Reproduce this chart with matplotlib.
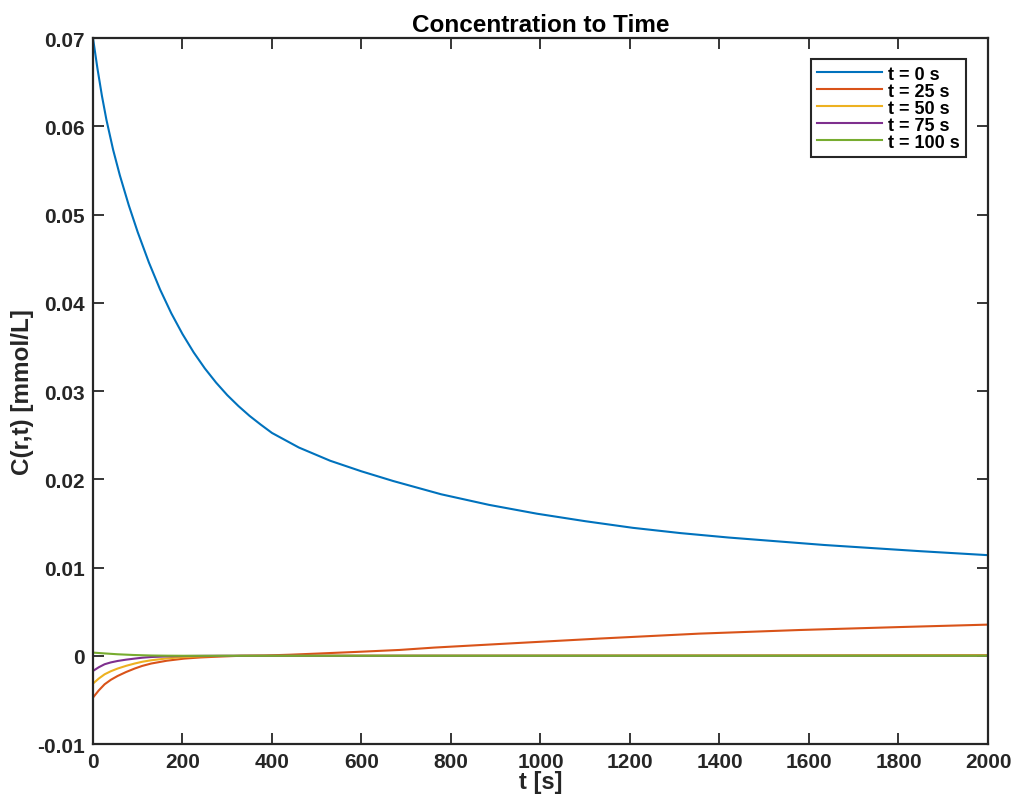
import numpy as np
import matplotlib
matplotlib.use("Agg")
import matplotlib.pyplot as plt

plt.rcParams['font.family'] = ['Liberation Sans', 'DejaVu Sans']
plt.rcParams['font.weight'] = 'bold'

# values
t_0 = [0, 10, 20, 30, 45, 60, 80, 100, 125, 150, 175, 200, 225, 250, 275,
       300, 325, 350, 375, 400, 460, 530, 600, 671, 778, 885, 992, 1100,
       1206, 1313, 1420, 1635, 1849, 2000]
c_0 = [0.07, 0.06655, 0.06345, 0.06075, 0.05734, 0.05445, 0.05105, 0.048,
       0.04456, 0.0415, 0.03881, 0.03646, 0.03438, 0.03256, 0.03096, 0.02954,
       0.0283, 0.02718, 0.02619, 0.02525, 0.0236, 0.0221, 0.0209, 0.0198,
       0.0183, 0.0171, 0.0161, 0.01525, 0.0145, 0.0139, 0.0134, 0.01255,
       0.01185, 0.0114]

t_25 = [0, 13, 26, 40, 55, 74, 93, 110, 130, 165, 204, 240, 279, 330, 383,
        440, 502, 590, 685, 763, 950, 1132, 1355, 1579, 1800, 2000]
c_25 = [-0.00474, -0.00392, -0.00323, -0.00272, -0.00229, -0.00184, -0.00145,
        -0.00115, -0.00088, -0.00056, -0.00032, -0.00019, -0.0001, 0.0,
        0.00003, 0.00012, 0.00025, 0.00044, 0.00066, 0.00093, 0.00145,
        0.00195, 0.00251, 0.00292, 0.00325, 0.00353]

t_50 = [0, 13, 26, 40, 55, 74, 93, 110, 130, 165, 204, 240, 279, 400, 1000, 2000]
c_50 = [-0.00315, -0.00258, -0.0021, -0.00175, -0.00145, -0.00114, -0.00088,
        -0.00068, -0.00051, -0.0003, -0.00014, -0.00006, -0.00002, 0.0,
        0.00003, 0.00008]

t_75 = [0, 13, 26, 40, 55, 74, 93, 110, 130, 165, 204, 250, 300, 2000]
c_75 = [-0.00172, -0.0013, -0.00096, -0.00075, -0.00059, -0.00044, -0.00032,
        -0.00022, -0.00014, -0.00007, -0.00003, -0.00001, 0.0, 0.0]

t_100 = [0, 25, 55, 90, 130, 165, 200, 2000]
c_100 = [0.00036, 0.00027, 0.00017, 0.00009, 0.00003, 0.00001, 0.0, 0.0]

labels = ['t = 0 s', 't = 25 s', 't = 50 s', 't = 75 s', 't = 100 s']
colors = ['#0072BD', '#D95319', '#EDB120', '#7E2F8E', '#77AC30']

xticks = [0, 200, 400, 600, 800, 1000, 1200, 1400, 1600, 1800, 2000]
yticks = [-0.01, 0, 0.01, 0.02, 0.03, 0.04, 0.05, 0.06, 0.07]
ytick_labels = ['-0.01', '0', '0.01', '0.02', '0.03', '0.04', '0.05', '0.06', '0.07']

fig = plt.figure(figsize=(10.15, 8.03), dpi=100)
ax = fig.add_axes([0.0916, 0.0722, 0.9734 - 0.0916, 0.9514 - 0.0722])

series = [(t_0, c_0), (t_25, c_25), (t_50, c_50), (t_75, c_75), (t_100, c_100)]
for (t, c), lab, col in zip(series, labels, colors):
    ax.plot(t, c, color=col, linewidth=1.5, label=lab)

ax.set_xlim(0, 2000)
ax.set_ylim(-0.01, 0.07)
ax.set_xticks(xticks)
ax.set_xticklabels([str(v) for v in xticks])
ax.set_yticks(yticks)
ax.set_yticklabels(ytick_labels)
ax.tick_params(direction='in', length=8, width=1.3, top=True, right=True,
               labelsize=15, colors='#262626', pad=6)
for sp in ax.spines.values():
    sp.set_linewidth(1.6)
    sp.set_color('#262626')

ax.set_title('Concentration to Time', fontsize=17.5, fontweight='bold', pad=5)
ax.set_xlabel('t [s]', fontsize=17, fontweight='bold', labelpad=-1, color='#262626')
ax.set_ylabel('C(r,t) [mmol/L]', fontsize=17.5, fontweight='bold', labelpad=2, color='#262626')

leg = ax.legend(loc='upper right', bbox_to_anchor=(0.975, 0.970), fontsize=13,
                handlelength=3.6, handletextpad=0.3, borderpad=0.35,
                labelspacing=0.0, borderaxespad=0, fancybox=False,
                framealpha=1, edgecolor='#262626')
leg.get_frame().set_linewidth(1.5)

fig.savefig('out.png', dpi=100)
